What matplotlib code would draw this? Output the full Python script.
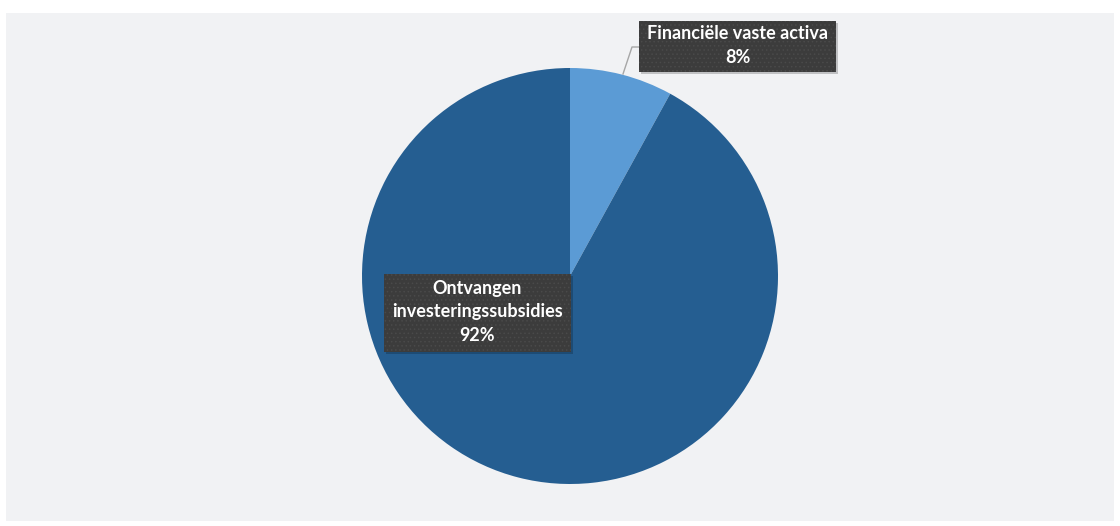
import matplotlib.pyplot as plt
from matplotlib.patches import Rectangle

categories = ['Financiële vaste activa', 'Ontvangen\ninvesteringssubsidies']
values = [8, 92]
colors = ['#5B9BD5', '#255E91']

W, H = 1120, 526
plt.rcParams['font.family'] = ['Lato', 'DejaVu Sans']
plt.rcParams['hatch.linewidth'] = 0.6

fig = plt.figure(figsize=(W / 100, H / 100), dpi=100)
fig.patch.set_facecolor('white')
ax = fig.add_axes([0, 0, 1, 1])
ax.set_xlim(0, W)
ax.set_ylim(0, H)
ax.axis('off')

# achtergrondvlak
ax.add_patch(Rectangle((6, H - 521), 1108, 508, facecolor='#F1F2F4', edgecolor='none', zorder=0))

ax.pie(values, colors=colors, startangle=90, counterclock=False,
       center=(570, H - 276), radius=208, wedgeprops=dict(linewidth=0))
ax.set_aspect('equal')
ax.set_xlim(0, W)
ax.set_ylim(0, H)

total = sum(values)
labels = [f'{c}\n{round(v / total * 100)}%' for c, v in zip(categories, values)]

# label-boxen: (x, y_top, breedte, hoogte) in pixels
boxes = [(639, 21, 197, 51), (384, 274, 187, 78)]

for (bx, by, bw, bh), lab in zip(boxes, labels):
    y0 = H - by - bh
    ax.add_patch(Rectangle((bx + 2, y0 - 2), bw, bh, facecolor='#000000', alpha=0.2,
                           edgecolor='none', zorder=3))
    ax.add_patch(Rectangle((bx, y0), bw, bh, facecolor='#3C3C3C', edgecolor='none', zorder=4))
    ax.add_patch(Rectangle((bx, y0), bw, bh, facecolor='none', edgecolor='#4A4A4A',
                           hatch='....', linewidth=0, zorder=5))
    ax.text(bx + bw / 2, y0 + bh / 2 + 1, lab, ha='center', va='center', color='white',
            fontsize=13, fontweight='bold', linespacing=1.45, zorder=6)

# leader line
ax.plot([639, 632, 623], [H - 47, H - 47, H - 74], color='#A6A6A6', lw=1, zorder=2)

fig.savefig('out.png', dpi=100, facecolor=fig.get_facecolor())
